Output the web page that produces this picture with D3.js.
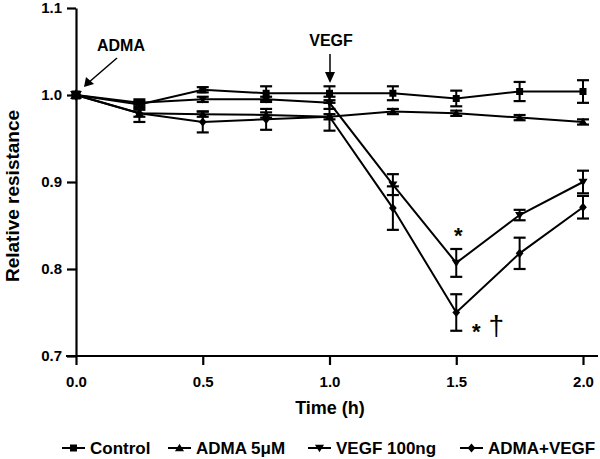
<!DOCTYPE html>
<html><head><meta charset="utf-8">
<script src="https://cdn.jsdelivr.net/npm/d3@7"></script>
<style>
body{margin:0;background:#fff;}
svg{font-family:"Liberation Sans",Arial,sans-serif;font-weight:bold;}
</style></head>
<body><svg id="c" width="600" height="459"></svg>
<script>
const times = [0, 0.25, 0.5, 0.75, 1.0, 1.25, 1.5, 1.75, 2.0];
const seriesNames = ["Control", "ADMA 5\u03bcM", "VEGF 100ng", "ADMA+VEGF"];
const controlVals = [1.0, 0.989, 1.006, 1.002, 1.002, 1.002, 0.996, 1.004, 1.004];
const controlErr  = [0, 0.004, 0.003, 0.008, 0.008, 0.008, 0.009, 0.011, 0.013];
const admaVals    = [1.0, 0.979, 0.978, 0.977, 0.975, 0.981, 0.979, 0.974, 0.969];
const admaErr     = [0, 0.004, 0.003, 0.003, 0.003, 0.003, 0.003, 0.003, 0.003];
const vegfVals    = [1.0, 0.991, 0.995, 0.995, 0.991, 0.897, 0.807, 0.862, 0.900];
const vegfErr     = [0, 0.004, 0.003, 0.003, 0.007, 0.012, 0.016, 0.006, 0.013];
const comboVals   = [1.0, 0.979, 0.969, 0.972, 0.975, 0.870, 0.750, 0.818, 0.871];
const comboErr    = [0, 0.010, 0.012, 0.012, 0.016, 0.025, 0.021, 0.018, 0.013];
const xTicks = [0, 0.5, 1.0, 1.5, 2.0];
const yTicks = [0.7, 0.8, 0.9, 1.0, 1.1];

const series = [
  {name: seriesNames[0], vals: controlVals, err: controlErr, sym: "square"},
  {name: seriesNames[1], vals: admaVals, err: admaErr, sym: "up"},
  {name: seriesNames[2], vals: vegfVals, err: vegfErr, sym: "down"},
  {name: seriesNames[3], vals: comboVals, err: comboErr, sym: "diamond"}
];

const svg = d3.select("#c");
const x = d3.scaleLinear().domain([0, 2]).range([76, 583]);
const y = d3.scaleLinear().domain([0.7, 1.1]).range([356, 8]);

// axes
const xAxis = svg.append("g").attr("transform", `translate(0,${y(0.7)})`)
  .call(d3.axisBottom(x).tickValues(xTicks).tickFormat(d3.format(".1f")).tickSize(9).tickSizeOuter(0));
xAxis.select(".domain").attr("d", `M${x(0)-10},0H598`);
const yAxis = svg.append("g").attr("transform", `translate(${x(0)},0)`)
  .call(d3.axisLeft(y).tickValues(yTicks).tickFormat(d3.format(".1f")).tickSize(9).tickSizeOuter(0));
svg.selectAll(".domain, .tick line").attr("stroke", "#000").attr("stroke-width", 2.2);
xAxis.selectAll(".tick text").attr("font-size", 15).attr("font-weight", "bold").attr("dy", "1.25em").attr("fill", "#000");
yAxis.selectAll(".tick text").attr("font-size", 15).attr("font-weight", "bold").attr("fill", "#000").attr("dx", "-2");

svg.append("text").attr("x", 330).attr("y", 414).attr("text-anchor", "middle")
  .attr("font-size", 18).text("Time (h)");
svg.append("text").attr("transform", "translate(19,196) rotate(-90)").attr("text-anchor", "middle")
  .attr("font-size", 19).text("Relative resistance");

function symPath(sym, s) {
  if (sym === "square") return d3.symbol(d3.symbolSquare, s * s)();
  if (sym === "up") return `M0,${-s*0.6}L${s*0.65},${s*0.45}L${-s*0.65},${s*0.45}Z`;
  if (sym === "down") return `M0,${s*0.6}L${s*0.65},${-s*0.45}L${-s*0.65},${-s*0.45}Z`;
  return `M0,${-s*0.65}L${s*0.55},0L0,${s*0.65}L${-s*0.55},0Z`;
}

const line = d3.line().x((d, i) => x(times[i])).y(d => y(d));
series.forEach(s => {
  svg.append("path").attr("d", line(s.vals)).attr("fill", "none").attr("stroke", "#000").attr("stroke-width", 2);
  const g = svg.append("g");
  s.vals.forEach((v, i) => {
    const e = s.err[i];
    if (e > 0) {
      const cx = x(times[i]);
      g.append("line").attr("x1", cx).attr("x2", cx).attr("y1", y(v - e)).attr("y2", y(v + e)).attr("stroke", "#000").attr("stroke-width", 2);
      [v - e, v + e].forEach(t => g.append("line").attr("x1", cx - 6).attr("x2", cx + 6).attr("y1", y(t)).attr("y2", y(t)).attr("stroke", "#000").attr("stroke-width", 2.2));
    }
    g.append("path").attr("d", symPath(s.sym, i === 0 ? 9 : 7)).attr("transform", `translate(${x(times[i])},${y(v)})`).attr("fill", "#000");
  });
});

// annotations
svg.append("text").attr("x", 97).attr("y", 51).attr("font-size", 16).text("ADMA");
svg.append("line").attr("x1", 117).attr("y1", 58).attr("x2", 88).attr("y2", 83).attr("stroke", "#000").attr("stroke-width", 1.5);
svg.append("path").attr("d", "M84,87L86,77L94,84Z").attr("fill", "#000");
svg.append("text").attr("x", 331).attr("y", 46).attr("text-anchor", "middle").attr("font-size", 16).text("VEGF");
svg.append("line").attr("x1", 330).attr("y1", 54).attr("x2", 330).attr("y2", 74).attr("stroke", "#000").attr("stroke-width", 1.5);
svg.append("path").attr("d", "M330,83L325,72L335,72Z").attr("fill", "#000");
svg.append("text").attr("x", x(1.5) + 2).attr("y", y(0.807) - 20).attr("text-anchor", "middle").attr("font-size", 22).attr("font-weight", "bold").text("*");
svg.append("text").attr("x", x(1.5) + 20).attr("y", y(0.75) + 26).attr("text-anchor", "middle").attr("font-size", 22).attr("font-weight", "bold").text("*");
svg.append("text").attr("x", x(1.5) + 40).attr("y", y(0.75) + 22).attr("text-anchor", "middle").attr("font-size", 28).attr("font-weight", "normal").text("\u2020");

// legend
const legX = [62, 168, 308, 460];
series.forEach((s, i) => {
  const lx = legX[i], ly = 448;
  svg.append("line").attr("x1", lx).attr("x2", lx + 23).attr("y1", ly).attr("y2", ly).attr("stroke", "#000").attr("stroke-width", 2);
  svg.append("path").attr("d", symPath(s.sym, 7)).attr("transform", `translate(${lx + 11.5},${ly})`).attr("fill", "#000");
  svg.append("text").attr("x", lx + 28).attr("y", ly + 6).attr("font-size", 17).text(s.name);
});
</script></body></html>
